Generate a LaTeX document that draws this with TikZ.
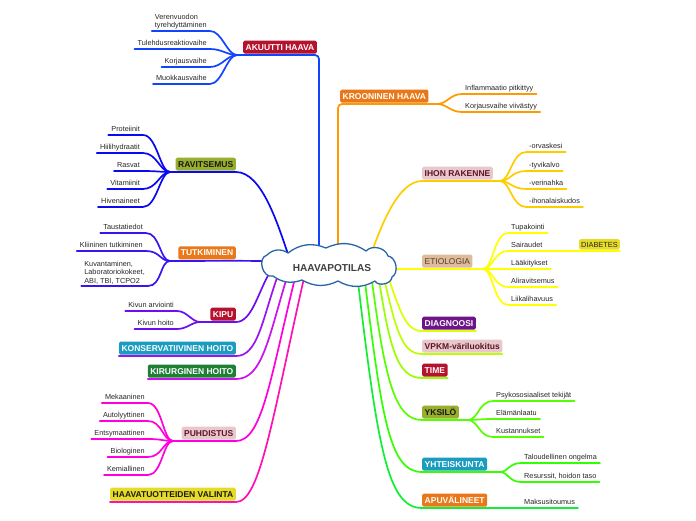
\documentclass[tikz,border=0pt]{standalone}
\usepackage{fontspec}
\setmainfont{Liberation Sans}
\usetikzlibrary{calc}
\pgfdeclarelayer{bg}
\pgfsetlayers{bg,main}
% line colours
\definecolor{lAku}{HTML}{1144FF}
\definecolor{lRav}{HTML}{0A0AF0}
\definecolor{lTut}{HTML}{3A14F0}
\definecolor{lKip}{HTML}{6A10F0}
\definecolor{lKon}{HTML}{9A14F0}
\definecolor{lKir}{HTML}{CC10EE}
\definecolor{lPuh}{HTML}{FF00DD}
\definecolor{lHaa}{HTML}{FF10B0}
\definecolor{lKro}{HTML}{FF9900}
\definecolor{lIho}{HTML}{FFCC00}
\definecolor{lEti}{HTML}{FFFF00}
\definecolor{lDia}{HTML}{DDFF00}
\definecolor{lVpk}{HTML}{BBFF00}
\definecolor{lTim}{HTML}{99FF00}
\definecolor{lYks}{HTML}{55FF00}
\definecolor{lYht}{HTML}{33FF00}
\definecolor{lApu}{HTML}{11EE33}
% box colours
\definecolor{bRed}{HTML}{B5122E}
\definecolor{bOrange}{HTML}{E8781A}
\definecolor{bPink}{HTML}{E8C8CD}
\definecolor{bPinkTxt}{HTML}{5E1428}
\definecolor{bTan}{HTML}{DFBB9A}
\definecolor{bTanTxt}{HTML}{4D4036}
\definecolor{bYellow}{HTML}{E6DC28}
\definecolor{bPurple}{HTML}{6E1489}
\definecolor{bOlive}{HTML}{9AAE2E}
\definecolor{bTeal}{HTML}{1A9BC0}
\definecolor{bGreen}{HTML}{1E8035}
\definecolor{cCloud}{HTML}{2A64A6}
\tikzset{
  lbl/.style={font=\fontsize{7.3}{8.6}\selectfont, text=black!85, inner xsep=3pt, inner ysep=1.5pt, text height=5.3pt, text depth=1.4pt},
  lblm/.style={font=\fontsize{7.3}{8.6}\selectfont, text=black!85, inner xsep=3pt, inner ysep=1.5pt, align=left},
  lblL/.style={lbl, anchor=south east},
  lblR/.style={lbl, anchor=south west},
  topic/.style={font=\fontsize{8.5}{10}\selectfont\bfseries, rounded corners=1.5pt, inner xsep=2.5pt, inner ysep=0pt, minimum height=13pt, text height=6.1pt, text depth=0pt},
  topicL/.style={topic, anchor=south east},
  topicR/.style={topic, anchor=south west},
  conn/.style={line width=1.7pt, line cap=round},
  cloudline/.style={draw=cCloud, fill=white, line width=1.3pt, line join=round},
}
\begin{document}
\begin{tikzpicture}[x=1pt,y=-1pt]
\useasboundingbox (0,0) rectangle (696,520);

% central cloud
\path[cloudline] (267,255)
  to[bend left=40] (288,253)
  to[bend left=30] (326,248)
  to[bend left=30] (366,251)
  to[bend left=60] (388,256)
  to[bend left=72] (392,277)
  to[bend left=75] (375,281)
  to[bend left=30] (338,281)
  to[bend left=28] (302,280)
  to[bend left=28] (273,276)
  to[bend left=90, looseness=1.25] (267,255) -- cycle;
\node[inner sep=0pt, font=\fontsize{10.1}{12}\selectfont\bfseries, text=black!75] (hub) at (332,268) {HAAVAPOTILAS};

% ---------- topic boxes ----------
\node[topicL, fill=bRed, text=white] (aku) at (317,53.8) {AKUUTTI HAAVA};
\node[topicR, fill=bOrange, text=white] (kro) at (340,102.8) {KROONINEN HAAVA};
\node[topicL, fill=bOlive, text=black!90] (rav) at (236,170.8) {RAVITSEMUS};
\node[topicL, fill=bOrange, text=white] (tut) at (236,259.6) {TUTKIMINEN};
\node[topicL, fill=bRed, text=white] (kip) at (236,320.8) {KIPU};
\node[topicL, fill=bTeal, text=white] (kon) at (236,354.8) {KONSERVATIIVINEN HOITO};
\node[topicL, fill=bGreen, text=white] (kir) at (236,377.8) {KIRURGINEN HOITO};
\node[topicL, fill=bPink, text=bPinkTxt] (puh) at (236,439.8) {PUHDISTUS};
\node[topicL, fill=bYellow, text=black!90] (haa) at (236,500.8) {HAAVATUOTTEIDEN VALINTA};
\node[topicR, fill=bPink, text=bPinkTxt] (iho) at (422,179.8) {IHON RAKENNE};
\node[topicR, fill=bTan, text=bTanTxt, font=\fontsize{8.4}{10}\selectfont] (eti) at (422,267.8) {ETIOLOGIA};
\node[topicR, fill=bPurple, text=white] (dia) at (422,329.8) {DIAGNOOSI};
\node[topicR, fill=bPink, text=bPinkTxt] (vpk) at (422,352.8) {VPKM-väriluokitus};
\node[topicR, fill=bRed, text=white] (tim) at (422,376.8) {TIME};
\node[topicR, fill=bOlive, text=black!90] (yks) at (422,418.8) {YKSILÖ};
\node[topicR, fill=bTeal, text=white] (yht) at (422,470.8) {YHTEISKUNTA};
\node[topicR, fill=bOrange, text=white] (apu) at (422,506.8) {APUVÄLINEET};
\node[anchor=south east, fill=bYellow, rounded corners=1.5pt, inner xsep=2pt, inner ysep=0pt, minimum height=10.5pt,
      font=\fontsize{7.4}{9}\selectfont, text=black!85, text height=5.3pt, text depth=0pt] (dbt) at (620,249.8) {DIABETES};

% ---------- child labels ----------
\node[lblm, anchor=south east] (ak1) at (210,31) {Verenvuodon\\tyrehdyttäminen};
\node[lblL] (ak2) at (210,49) {Tulehdusreaktiovaihe};
\node[lblL] (ak3) at (210,67) {Korjausvaihe};
\node[lblL] (ak4) at (210,84) {Muokkausvaihe};

\node[lblR] (kr1) at (462,94) {Inflammaatio pitkittyy};
\node[lblR] (kr2) at (462,112) {Korjausvaihe viivästyy};

\node[lblR] (ih1) at (526,152) {-orvaskesi};
\node[lblR] (ih2) at (526,171) {-tyvikalvo};
\node[lblR] (ih3) at (526,189) {-verinahka};
\node[lblR] (ih4) at (526,207) {-ihonalaiskudos};

\node[lblR] (et1) at (508,233) {Tupakointi};
\node[lblR] (et2) at (508,251) {Sairaudet};
\node[lblR] (et3) at (508,269) {Lääkitykset};
\node[lblR] (et4) at (508,287) {Aliravitsemus};
\node[lblR] (et5) at (508,305) {Liikalihavuus};

\node[lblL] (ra1) at (143,135) {Proteiinit};
\node[lblL] (ra2) at (143,153) {Hiilihydraatit};
\node[lblL] (ra3) at (143,171) {Rasvat};
\node[lblL] (ra4) at (143,189) {Vitamiinit};
\node[lblL] (ra5) at (143,207) {Hivenaineet};

\node[lblL] (tu1) at (146,233) {Taustatiedot};
\node[lblL] (tu2) at (146,251) {Kliininen tutkiminen};
\node[lblm, anchor=south east] (tu3) at (148,286) {Kuvantaminen,\\Laboratoriokokeet,\\ABI, TBI, TCPO2};

\node[lblL] (ki1) at (177,311) {Kivun arviointi};
\node[lblL] (ki2) at (177,329) {Kivun hoito};

\node[lblL] (pu1) at (148,403) {Mekaaninen};
\node[lblL] (pu2) at (148,421) {Autolyyttinen};
\node[lblL] (pu3) at (148,439) {Entsymaattinen};
\node[lblL] (pu4) at (148,457) {Biologinen};
\node[lblL] (pu5) at (148,475) {Kemiallinen};

\node[lblR] (yk1) at (493,401) {Psykososiaaliset tekijät};
\node[lblR] (yk2) at (493,419) {Elämänlaatu};
\node[lblR] (yk3) at (493,437) {Kustannukset};

\node[lblR] (yh1) at (521,463) {Taloudellinen ongelma};
\node[lblR] (yh2) at (521,482) {Resurssit, hoidon taso};

\node[lblR] (ap1) at (521,508) {Maksusitoumus};

% ---------- connectors ----------
\begin{pgfonlayer}{bg}
% origins inside the cloud
\coordinate (oAku) at (319,256);
\coordinate (oKro) at (338,256);
\coordinate (oRav) at (289,257);
\coordinate (oTut) at (268,261);
\coordinate (oKip) at (270,272);
\coordinate (oKon) at (278,275);
\coordinate (oKir) at (287,277);
\coordinate (oPuh) at (295,278);
\coordinate (oHaa) at (304,278);
\coordinate (oIho) at (370,257);
\coordinate (oEti) at (390,269);
\coordinate (oDia) at (387,274);
\coordinate (oVpk) at (384,278);
\coordinate (oTim) at (379,280);
\coordinate (oYks) at (372,281);
\coordinate (oYht) at (365,282);
\coordinate (oApu) at (358,282);
% fan points
\coordinate (fAku) at (237,55);
\coordinate (fKro) at (437,104);
\coordinate (fRav) at (170,172);
\coordinate (fTut) at (170,261);
\coordinate (fKip) at (200,322);
\coordinate (fPuh) at (173,441);
\coordinate (fIho) at (500,181);
\coordinate (fEti) at (483,269);
\coordinate (fYks) at (468,420);
\coordinate (fYht) at (500,472);

% main branches, left
\draw[conn, lAku, rounded corners=4pt] (oAku) |- (fAku);
\draw[conn, lRav] (oRav) .. controls (278,225) and (262,172) .. ([yshift=-1.2pt]rav.south east) -- (fRav);
\draw[conn, lTut] (oTut) -- ([yshift=-1.2pt]tut.south east) -- (fTut);
\draw[conn, lKip] (oKip) .. controls (258,292) and (252,322) .. ([yshift=-1.2pt]kip.south east) -- (fKip);
\draw[conn, lKon] (oKon) .. controls (262,320) and (258,356) .. ([yshift=-1.2pt]kon.south east) -- ([yshift=-1.2pt]kon.south west);
\draw[conn, lKir] (oKir) .. controls (268,340) and (262,379) .. ([yshift=-1.2pt]kir.south east) -- ([yshift=-1.2pt]kir.south west);
\draw[conn, lPuh] (oPuh) .. controls (270,380) and (262,441) .. ([yshift=-1.2pt]puh.south east) -- (fPuh);
\draw[conn, lHaa] (oHaa) .. controls (272,420) and (260,502) .. ([yshift=-1.2pt]haa.south east) -- ([yshift=-1.2pt]haa.south west);
% main branches, right
\draw[conn, lKro, rounded corners=4pt] (oKro) |- (fKro);
\draw[conn, lIho] (oIho) .. controls (381,226) and (398,181) .. ([yshift=-1.2pt]iho.south west) -- (fIho);
\draw[conn, lEti] (oEti) -- (fEti);
\draw[conn, lDia] (oDia) .. controls (400,310) and (405,331) .. ([yshift=-1.2pt]dia.south west) -- ([yshift=-1.2pt]dia.south east);
\draw[conn, lVpk] (oVpk) .. controls (396,330) and (402,354) .. ([yshift=-1.2pt]vpk.south west) -- ([yshift=-1.2pt]vpk.south east);
\draw[conn, lTim] (oTim) .. controls (390,350) and (398,378) .. ([yshift=-1.2pt]tim.south west) -- ([yshift=-1.2pt]tim.south east);
\draw[conn, lYks] (oYks) .. controls (385,380) and (395,420) .. ([yshift=-1.2pt]yks.south west) -- (fYks);
\draw[conn, lYht] (oYht) .. controls (382,420) and (390,472) .. ([yshift=-1.2pt]yht.south west) -- (fYht);
\draw[conn, lApu] (oApu) .. controls (378,450) and (388,508) .. ([yshift=-1.2pt]apu.south west) -- (ap1.south east);

% children, left
\foreach \c in {ak1,ak2,ak3,ak4}
  \draw[conn, lAku] (fAku) .. controls +(-10,0) and +(12,0) .. (\c.south east) -- (\c.south west);
\foreach \c in {ra1,ra2,ra3,ra4,ra5}
  \draw[conn, lRav] (fRav) .. controls +(-10,0) and +(14,0) .. (\c.south east) -- (\c.south west);
\foreach \c in {tu1,tu2,tu3}
  \draw[conn, lTut] (fTut) .. controls +(-10,0) and +(14,0) .. (\c.south east) -- (\c.south west);
\foreach \c in {ki1,ki2}
  \draw[conn, lKip] (fKip) .. controls +(-8,0) and +(10,0) .. (\c.south east) -- (\c.south west);
\foreach \c in {pu1,pu2,pu3,pu4,pu5}
  \draw[conn, lPuh] (fPuh) .. controls +(-10,0) and +(14,0) .. (\c.south east) -- (\c.south west);
% children, right
\foreach \c in {kr1,kr2}
  \draw[conn, lKro] (fKro) .. controls +(10,0) and +(-12,0) .. (\c.south west) -- (\c.south east);
\foreach \c in {ih1,ih2,ih3,ih4}
  \draw[conn, lIho] (fIho) .. controls +(10,0) and +(-14,0) .. (\c.south west) -- (\c.south east);
\foreach \c in {et1,et3,et4,et5}
  \draw[conn, lEti] (fEti) .. controls +(10,0) and +(-14,0) .. (\c.south west) -- (\c.south east);
\draw[conn, lEti] (fEti) .. controls +(10,0) and +(-14,0) .. (et2.south west) -- ([yshift=-1.2pt]dbt.south east);
\foreach \c in {yk1,yk2,yk3}
  \draw[conn, lYks] (fYks) .. controls +(10,0) and +(-14,0) .. (\c.south west) -- (\c.south east);
\foreach \c in {yh1,yh2}
  \draw[conn, lYht] (fYht) .. controls +(8,0) and +(-12,0) .. (\c.south west) -- (\c.south east);
\end{pgfonlayer}
\end{tikzpicture}
\end{document}
